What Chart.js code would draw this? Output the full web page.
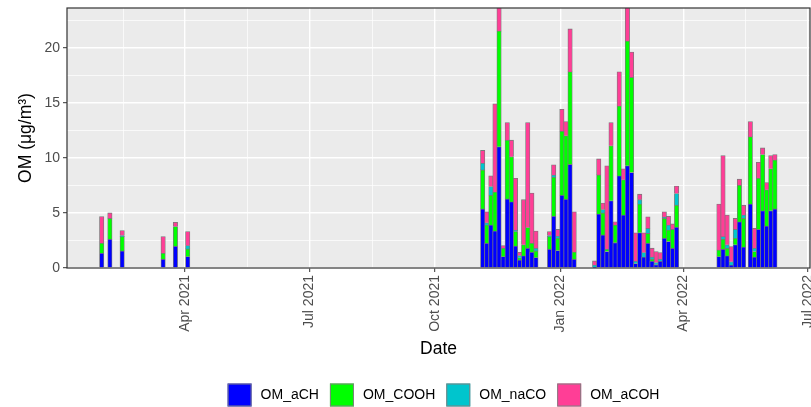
<!DOCTYPE html>
<html>
<head>
  <meta charset="UTF-8">
  <title>OM by date</title>
  <script src="https://cdn.jsdelivr.net/npm/chart.js"></script>
  <style>
    body { margin: 0; background: #fff; }
    .wrap { position: relative; width: 811px; height: 407px; }
  </style>
</head>
<body>
  <div class="wrap"><canvas id="omChart"></canvas></div>

  <script>
    // Sample dates (one bar each)
    const dates = [
      '2021-01-30', '2021-02-05', '2021-02-14', '2021-03-16', '2021-03-25', '2021-04-03',
      '2021-11-05', '2021-11-08', '2021-11-11', '2021-11-14', '2021-11-17', '2021-11-20', '2021-11-23',
      '2021-11-26', '2021-11-29', '2021-12-02', '2021-12-05', '2021-12-08', '2021-12-11', '2021-12-14',
      '2021-12-24', '2021-12-27', '2021-12-30', '2022-01-02', '2022-01-05', '2022-01-08', '2022-01-11',
      '2022-01-26', '2022-01-29', '2022-02-01', '2022-02-04', '2022-02-07', '2022-02-10', '2022-02-13',
      '2022-02-16', '2022-02-19', '2022-02-22', '2022-02-25', '2022-02-28', '2022-03-03', '2022-03-06',
      '2022-03-09', '2022-03-12', '2022-03-15', '2022-03-18', '2022-03-21', '2022-03-24', '2022-03-27',
      '2022-04-27', '2022-04-30', '2022-05-03', '2022-05-06', '2022-05-09', '2022-05-12', '2022-05-15',
      '2022-05-20', '2022-05-23', '2022-05-26', '2022-05-29', '2022-06-01', '2022-06-04', '2022-06-07'
    ];

    // Series values (ug/m3), same order as dates
    const omACH = [
      1.33, 2.60, 1.55, 0.79, 1.97, 1.03,
      5.36, 2.24, 3.90, 3.36, 11.0, 1.03, 6.27, 6.00, 2.00, 0.73, 1.10, 1.80, 1.42, 0.94,
      1.70, 4.70, 1.58, 6.60, 6.24, 9.40, 0.80,
      0.06, 4.90, 3.00, 1.50, 6.10, 2.30, 8.36, 4.80, 9.27, 8.67, 0.40, 3.20, 1.00, 2.24,
      0.60, 0.30, 0.60, 2.70, 2.40, 1.80, 3.70,
      1.03, 1.70, 1.10, 0.27, 2.10, 4.20, 1.90, 5.80, 1.00, 3.50, 5.20, 3.80, 5.20, 5.36
    ];
    const omCOOH = [
      0.91, 1.90, 1.30, 0.54, 1.79, 0.70,
      3.54, 1.66, 2.70, 3.54, 10.5, 0.77, 5.33, 4.10, 1.30, 0.20, 1.00, 1.87, 0.82, 0.61,
      1.15, 3.54, 1.12, 5.80, 5.76, 8.40, 0.65,
      0.00, 3.55, 2.00, 0.20, 5.00, 1.60, 6.34, 3.20, 11.33, 8.63, 0.00, 2.60, 0.00, 0.90,
      0.20, 0.00, 0.00, 1.80, 1.05, 1.70, 2.00,
      0.60, 0.90, 0.70, 0.00, 0.60, 3.30, 2.60, 6.10, 0.50, 4.65, 5.10, 3.30, 3.80, 4.44
    ];
    const omNaCO = [
      0.00, 0.00, 0.10, 0.00, 0.00, 0.30,
      0.60, 0.20, 0.80, 0.00, 0.00, 0.00, 0.00, 0.00, 0.15, 0.20, 0.00, 0.00, 0.00, 0.25,
      0.10, 0.20, 0.20, 0.00, 0.00, 0.00, 0.00,
      0.20, 0.00, 0.30, 0.00, 0.00, 0.00, 0.00, 0.00, 0.00, 0.00, 0.20, 0.40, 0.40, 0.45,
      0.20, 0.20, 0.20, 0.10, 0.45, 0.00, 1.06,
      0.00, 0.25, 0.30, 0.30, 0.80, 0.00, 0.30, 0.00, 0.30, 0.00, 0.00, 0.00, 0.00, 0.00
    ];
    const omACOH = [
      2.43, 0.50, 0.45, 1.52, 0.39, 1.27,
      1.17, 1.00, 0.96, 8.00, 3.00, 0.23, 1.60, 1.50, 4.70, 0.29, 4.10, 9.53, 4.56, 1.56,
      0.35, 0.92, 0.60, 2.00, 1.30, 3.90, 3.65,
      0.38, 1.45, 0.60, 7.57, 2.10, 0.30, 3.10, 1.00, 3.40, 2.30, 2.60, 0.50, 1.80, 1.06,
      0.80, 1.00, 0.60, 0.50, 0.80, 0.50, 0.67,
      4.17, 7.35, 2.70, 1.37, 1.00, 0.56, 0.90, 1.40, 1.80, 1.45, 0.60, 0.66, 1.20, 0.50
    ];

    const seriesNames = ['OM_aCH', 'OM_COOH', 'OM_naCO', 'OM_aCOH'];
    const seriesColors = ['#0000FF', '#00FF00', '#00C5CD', '#FF3E96'];

    // Axis breaks
    const tickDates = ['2021-01-01', '2021-04-01', '2021-07-01', '2021-10-01', '2022-01-01', '2022-04-01', '2022-07-01'];
    const tickLabels = ['Jan 2021', 'Apr 2021', 'Jul 2021', 'Oct 2021', 'Jan 2022', 'Apr 2022', 'Jul 2022'];
    const yBreaks = [0, 5, 10, 15, 20];

    // x is days since 2021-01-01
    const dayOf = s => {
      const [y, m, d] = s.split('-').map(Number);
      return (Date.UTC(y, m - 1, d) - Date.UTC(2021, 0, 1)) / 864e5;
    };
    const xMin = 3.6, xMax = 547.7;
    const yMax = 23.6;

    const majorX = tickDates.map(dayOf);
    const minorX = majorX.slice(1).map((v, i) => (v + majorX[i]) / 2);
    const xGrid = majorX.concat(minorX).filter(v => v >= xMin && v <= xMax).sort((a, b) => a - b);
    const yGrid = [];
    yBreaks.forEach(v => { yGrid.push(v); if (v + 2.5 <= yMax) yGrid.push(v + 2.5); });

    const isMajorX = v => majorX.includes(v);
    const isMajorY = v => yBreaks.includes(v);

    const xs = dates.map(dayOf);
    const allSeries = [omACH, omCOOH, omNaCO, omACOH];
    const datasets = allSeries.map((vals, i) => ({
      label: seriesNames[i],
      data: vals.map((v, j) => ({ x: xs[j], y: v > 0 ? v : null })),
      backgroundColor: seriesColors[i],
      borderColor: '#7A7A7A',
      borderWidth: 0.8,
      barThickness: 4.4
    }));

    const tickFont = { family: '"Liberation Sans", Arial, sans-serif', size: 14 };
    const titleFont = { family: '"Liberation Sans", Arial, sans-serif', size: 17.5 };

    // grey panel, frame and bottom legend
    const panelPlugin = {
      id: 'panel',
      beforeDraw(chart) {
        const { ctx, chartArea: a } = chart;
        ctx.save();
        ctx.fillStyle = '#EBEBEB';
        ctx.fillRect(a.left, a.top, a.right - a.left, a.bottom - a.top);
        ctx.restore();
      },
      afterDraw(chart) {
        const { ctx, chartArea: a } = chart;
        ctx.save();
        ctx.strokeStyle = '#333333';
        ctx.lineWidth = 1.2;
        ctx.strokeRect(a.left, a.top, a.right - a.left, a.bottom - a.top);

        // legend
        ctx.font = '14px "Liberation Sans", Arial, sans-serif';
        const key = 24, textGap = 9, itemGap = 11;
        const sets = chart.data.datasets;
        let total = itemGap * (sets.length - 1);
        sets.forEach(d => { total += key + textGap + ctx.measureText(d.label).width; });
        let x = (a.left + a.right) / 2 + 5 - total / 2;
        const top = 383.5, h = 23;
        sets.forEach(d => {
          ctx.fillStyle = d.backgroundColor;
          ctx.fillRect(x, top, key, h);
          ctx.strokeStyle = '#808080';
          ctx.lineWidth = 1;
          ctx.strokeRect(x + 0.5, top + 0.5, key - 1, h - 1);
          ctx.fillStyle = '#000';
          ctx.textBaseline = 'middle';
          ctx.textAlign = 'left';
          ctx.fillText(d.label, x + key + textGap, top + h / 2);
          x += key + textGap + ctx.measureText(d.label).width + itemGap;
        });
        ctx.restore();
      }
    };

    new Chart(document.getElementById('omChart'), {
      type: 'bar',
      data: { datasets },
      options: {
        responsive: true,
        maintainAspectRatio: false,
        animation: false,
        layout: { padding: { top: 8, right: 1, bottom: 0, left: 0 } },
        plugins: { legend: { display: false }, tooltip: { enabled: false } },
        scales: {
          x: {
            type: 'linear',
            stacked: true,
            offset: false,
            min: xMin,
            max: xMax,
            afterBuildTicks: s => { s.ticks = xGrid.map(v => ({ value: v })); },
            afterFit: s => { s.height = 139; s.paddingLeft = 0; s.paddingRight = 0; },
            ticks: {
              autoSkip: false,
              minRotation: 90,
              maxRotation: 90,
              padding: 3,
              color: '#4D4D4D',
              font: tickFont,
              callback: v => isMajorX(v) ? tickLabels[majorX.indexOf(v)] : ''
            },
            grid: {
              offset: false,
              color: '#FFFFFF',
              lineWidth: c => isMajorX(c.tick.value) ? 1.4 : 0.7,
              tickLength: 4,
              tickWidth: 1,
              tickColor: c => isMajorX(c.tick.value) ? '#333333' : 'rgba(0,0,0,0)'
            },
            border: { display: false },
            title: { display: true, text: 'Date', color: '#000', font: titleFont, padding: { top: 0, bottom: 47 } }
          },
          y: {
            stacked: true,
            min: 0,
            max: yMax,
            afterBuildTicks: s => { s.ticks = yGrid.map(v => ({ value: v })); },
            afterFit: s => { s.width = 67; s.paddingTop = 0; s.paddingBottom = 0; },
            ticks: {
              padding: 3,
              color: '#4D4D4D',
              font: tickFont,
              callback: v => isMajorY(v) ? String(v) : ''
            },
            grid: {
              color: '#FFFFFF',
              lineWidth: c => isMajorY(c.tick.value) ? 1.4 : 0.7,
              tickLength: 4,
              tickWidth: 1,
              tickColor: c => isMajorY(c.tick.value) ? '#333333' : 'rgba(0,0,0,0)'
            },
            border: { display: false },
            title: { display: true, text: 'OM (μg/m³)', color: '#000', font: titleFont, padding: { top: 16, bottom: 0 } }
          }
        }
      },
      plugins: [panelPlugin]
    });
  </script>
</body>
</html>
